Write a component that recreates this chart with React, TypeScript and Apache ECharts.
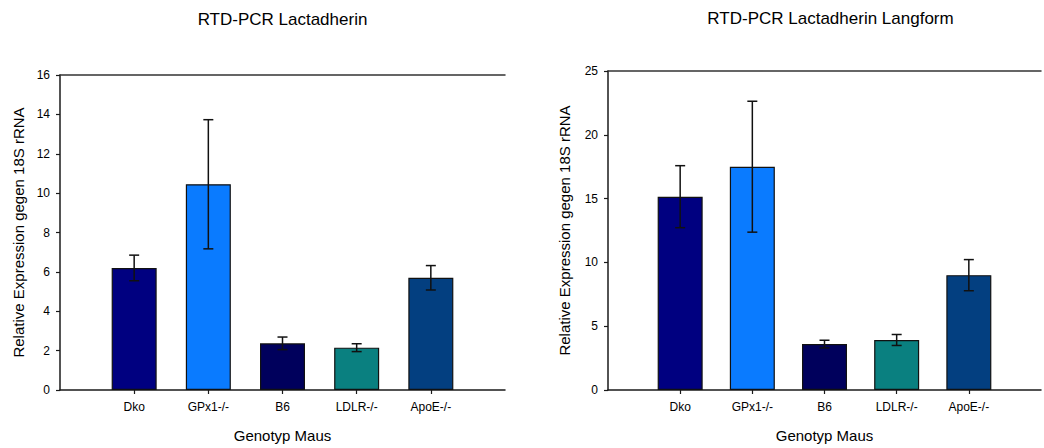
import React, { useEffect, useRef } from "react";
import * as echarts from "echarts";

// Genotypes on the x axis (shared by both panels)
const genotypes = ["Dko", "GPx1-/-", "B6", "LDLR-/-", "ApoE-/-"];
const barColors = ["#000080", "#0A7BFF", "#00005C", "#0A8080", "#033F80"];

// Panel 1: RTD-PCR Lactadherin
const lactadherinMean = [6.2, 10.45, 2.37, 2.15, 5.7];
const lactadherinErr = [0.65, 3.28, 0.32, 0.2, 0.62];

// Panel 2: RTD-PCR Lactadherin Langform
const langformMean = [15.15, 17.5, 3.6, 3.92, 9.0];
const langformErr = [2.43, 5.13, 0.3, 0.43, 1.22];

const titles = ["RTD-PCR Lactadherin", "RTD-PCR Lactadherin Langform"];
const yName = "Relative Expression gegen 18S rRNA";
const xName = "Genotyp Maus";

const FONT = "'Liberation Sans', Arial, sans-serif";
const AXIS_COLOR = "#1a1a1a";

// padded category list so the bars sit on interior tick positions
const axisCats = ["", ...genotypes, ""];

function barData(means: number[]) {
  return [
    "-",
    ...means.map((v, i) => ({ value: v, itemStyle: { color: barColors[i] } })),
    "-",
  ];
}

function errData(means: number[], errs: number[]) {
  return means.map((m, i) => [i + 1, m - errs[i], m + errs[i]]);
}

function renderErrorBar(params: any, api: any) {
  const x = api.value(0);
  const lo = api.coord([x, api.value(1)]);
  const hi = api.coord([x, api.value(2)]);
  const half = 5;
  const style = { stroke: "#111", lineWidth: 1.5 };
  return {
    type: "group",
    children: [
      { type: "line", shape: { x1: lo[0], y1: lo[1], x2: hi[0], y2: hi[1] }, style },
      { type: "line", shape: { x1: hi[0] - half, y1: hi[1], x2: hi[0] + half, y2: hi[1] }, style },
      { type: "line", shape: { x1: lo[0] - half, y1: lo[1], x2: lo[0] + half, y2: lo[1] }, style },
    ],
  };
}

function xAxisFor(gridIndex: number) {
  return {
    type: "category",
    gridIndex,
    data: axisCats,
    boundaryGap: false,
    position: "bottom",
    axisLine: { show: true, onZero: false, lineStyle: { color: AXIS_COLOR, width: 1.5 } },
    axisTick: {
      show: true,
      length: 4,
      interval: (idx: number) => idx > 0 && idx < axisCats.length - 1,
      lineStyle: { color: AXIS_COLOR, width: 1.2 },
    },
    axisLabel: { fontFamily: FONT, fontSize: 12, color: "#000", margin: 11, interval: 0 },
    splitLine: { show: false },
    name: xName,
    nameLocation: "middle",
    nameGap: 38,
    nameTextStyle: { fontFamily: FONT, fontSize: 15, color: "#000" },
  };
}

// frame line along the top of each plot
function topLine(gridIndex: number) {
  return {
    type: "value",
    gridIndex,
    position: "top",
    min: 0,
    max: 1,
    axisLine: { show: true, onZero: false, lineStyle: { color: "#333", width: 1.5 } },
    axisTick: { show: false },
    axisLabel: { show: false },
    splitLine: { show: false },
  };
}

function yAxisFor(gridIndex: number, max: number, interval: number, nameGap: number) {
  return {
    type: "value",
    gridIndex,
    min: 0,
    max,
    interval,
    axisLine: { show: true, onZero: false, lineStyle: { color: AXIS_COLOR, width: 1.5 } },
    axisTick: { show: true, length: 4, lineStyle: { color: AXIS_COLOR, width: 1.2 } },
    axisLabel: { fontFamily: FONT, fontSize: 12, color: "#000", margin: 10 },
    splitLine: { show: false },
    name: yName,
    nameLocation: "middle",
    nameGap,
    nameTextStyle: { fontFamily: FONT, fontSize: 15, color: "#000" },
  };
}

export default function App() {
  const ref = useRef<HTMLDivElement>(null);

  useEffect(() => {
    if (!ref.current) return;
    const chart = echarts.init(ref.current, undefined, { renderer: "svg" });
    chart.setOption({
      animation: false,
      backgroundColor: "#fff",
      grid: [
        { left: 60, top: 75, width: 445, height: 320 },
        { left: 608, top: 71, width: 445, height: 321 },
      ],
      graphic: [
        {
          type: "text",
          x: 282.5,
          y: 19,
          style: {
            text: titles[0],
            fontFamily: FONT,
            fontSize: 17,
            fill: "#000",
            align: "center",
            verticalAlign: "middle",
          },
        },
        {
          type: "text",
          x: 830.5,
          y: 18,
          style: {
            text: titles[1],
            fontFamily: FONT,
            fontSize: 17,
            fill: "#000",
            align: "center",
            verticalAlign: "middle",
          },
        },
      ],
      xAxis: [xAxisFor(0), xAxisFor(1), topLine(0), topLine(1)],
      yAxis: [yAxisFor(0, 16, 2, 34), yAxisFor(1, 25, 5, 36)],
      series: [
        {
          type: "bar",
          xAxisIndex: 0,
          yAxisIndex: 0,
          barWidth: 45,
          data: barData(lactadherinMean),
          itemStyle: { borderColor: "#111", borderWidth: 1.2 },
        },
        {
          type: "custom",
          xAxisIndex: 0,
          yAxisIndex: 0,
          data: errData(lactadherinMean, lactadherinErr),
          encode: { x: 0, y: [1, 2] },
          renderItem: renderErrorBar,
          z: 5,
        },
        {
          type: "bar",
          xAxisIndex: 1,
          yAxisIndex: 1,
          barWidth: 45,
          data: barData(langformMean),
          itemStyle: { borderColor: "#111", borderWidth: 1.2 },
        },
        {
          type: "custom",
          xAxisIndex: 1,
          yAxisIndex: 1,
          data: errData(langformMean, langformErr),
          encode: { x: 0, y: [1, 2] },
          renderItem: renderErrorBar,
          z: 5,
        },
      ],
    });
    return () => chart.dispose();
  }, []);

  return (
    <div
      ref={ref}
      style={{ position: "fixed", left: 0, top: 0, width: 1044, height: 448, background: "#fff" }}
    />
  );
}
